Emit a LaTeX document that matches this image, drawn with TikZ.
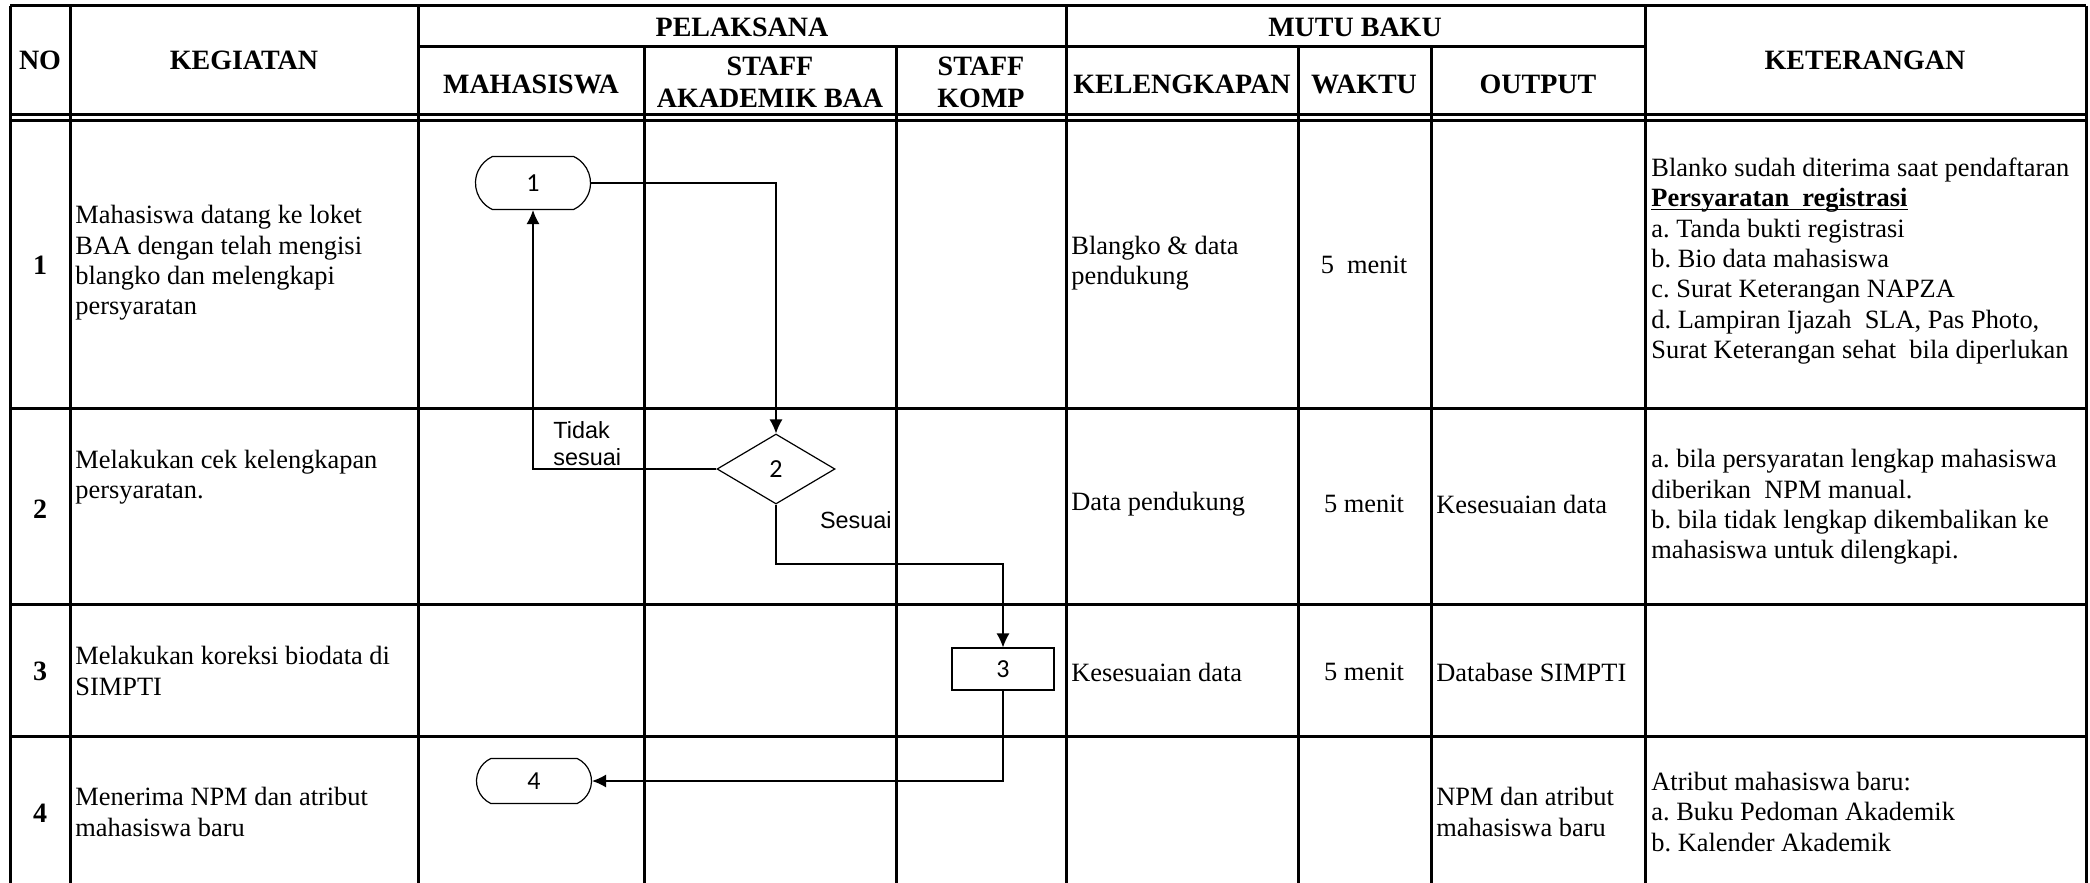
\documentclass[tikz,border=0pt]{standalone}
\usepackage{fontspec}
\setmainfont{Liberation Serif}
\newfontfamily\arialf{Liberation Sans}
\newfontfamily\calib{Carlito}
\usetikzlibrary{arrows.meta,shapes.geometric,shapes.misc}
\frenchspacing
\begin{document}
\begin{tikzpicture}[x=0.5pt,y=-0.5pt,
  grid/.style={line width=1.5pt},
  conn/.style={line width=0.6pt},
  arr/.style={conn,-{Latex[length=7pt,width=6.5pt]}},
  hd/.style={font=\fontsize{14}{16}\selectfont\bfseries,align=center,inner sep=0},
  txt/.style={font=\fontsize{13.2}{15.2}\selectfont,align=left,anchor=west,inner sep=0},
  ctxt/.style={font=\fontsize{13.2}{15.2}\selectfont,align=center,inner sep=0},
  num/.style={font=\fontsize{14}{16}\selectfont\bfseries,inner sep=0},
  lbl/.style={font=\arialf\fontsize{11.7}{13.5}\selectfont,align=left,inner sep=0},
  term/.style={draw,rounded rectangle,rounded rectangle arc length=130,line width=0.6pt,minimum width=57.5pt,font=\calib\fontsize{13}{15}\selectfont,inner sep=0},
  decis/.style={draw,diamond,line width=0.6pt,minimum width=59pt,minimum height=35pt,font=\calib\fontsize{13}{15}\selectfont,inner sep=0},
  procbox/.style={draw,rectangle,line width=0.6pt,minimum width=51pt,minimum height=21pt,font=\calib\fontsize{13}{15}\selectfont,inner sep=0}
]
\useasboundingbox (0,0) rectangle (2090,883);
% grid
\draw[grid] (10,6) -- (2086,6);
\draw[grid] (10,6) -- (10,883);
\draw[grid] (2086,6) -- (2086,883);
\draw[grid] (70,6) -- (70,883);
\draw[grid] (418,6) -- (418,883);
\draw[grid] (644,47) -- (644,883);
\draw[grid] (896,47) -- (896,883);
\draw[grid] (1066,6) -- (1066,883);
\draw[grid] (1298,47) -- (1298,883);
\draw[grid] (1431,47) -- (1431,883);
\draw[grid] (1645,6) -- (1645,883);
\draw[grid] (418,47) -- (1645,47);
\draw[grid] (10,115) -- (2086,115);
\draw[grid] (10,121) -- (2086,121);
\draw[grid] (10,408) -- (2086,408);
\draw[grid] (10,604) -- (2086,604);
\draw[grid] (10,736) -- (2086,736);
% header
\node[hd] (hno) at (40,60) {NO};
\node[hd] (hkeg) at (244,60) {KEGIATAN};
\node[hd] (hpel) at (742,27) {PELAKSANA};
\node[hd] (hmutu) at (1355,27) {MUTU BAKU};
\node[hd] (hket) at (1865,60) {KETERANGAN};
\node[hd] (hmhs) at (531,84) {MAHASISWA};
\node[hd] (hbaa) at (770,82) {STAFF\\AKADEMIK BAA};
\node[hd] (hkomp) at (981,82) {STAFF\\KOMP};
\node[hd] (hkel) at (1182,84) {KELENGKAPAN};
\node[hd] (hwak) at (1364,84) {WAKTU};
\node[hd] (hout) at (1538,84) {OUTPUT};
% row 1
\node[num] (n1) at (40,265) {1};
\node[txt] (k1) at (75,263) {Mahasiswa datang ke loket\\BAA dengan telah mengisi\\blangko dan melengkapi\\persyaratan};
\node[txt] (l1) at (1071,263) {Blangko \& data\\pendukung};
\node[ctxt] (w1) at (1364,265) {5\ \ menit};
\node[txt] (c1) at (1651,261) {Blanko sudah diterima saat pendaftaran\\\underline{\smash{\textbf{Persyaratan\ \ registrasi}}}\\a. Tanda bukti registrasi\\b. Bio data mahasiswa\\c. Surat Keterangan NAPZA\\d. Lampiran Ijazah\ \ SLA, Pas Photo,\\Surat Keterangan sehat\ \ bila diperlukan};
% row 2
\node[num] (n2) at (40,509) {2};
\node[txt] (k2) at (75,477) {Melakukan cek kelengkapan\\persyaratan.};
\node[txt] (l2) at (1071,504) {Data pendukung};
\node[ctxt] (w2) at (1364,504) {5 menit};
\node[txt] (o2) at (1436,504) {Kesesuaian data};
\node[txt] (c2) at (1651,507) {a. bila persyaratan lengkap mahasiswa\\diberikan\ \ NPM manual.\\b. bila tidak lengkap dikembalikan ke\\mahasiswa untuk dilengkapi.};
% row 3
\node[num] (n3) at (40,671) {3};
\node[txt] (k3) at (75,671) {Melakukan koreksi biodata di\\SIMPTI};
\node[txt] (l3) at (1071,672) {Kesesuaian data};
\node[ctxt] (w3) at (1364,672) {5 menit};
\node[txt] (o3) at (1436,672) {Database SIMPTI};
% row 4
\node[num] (n4) at (40,813) {4};
\node[txt] (k4) at (75,812) {Menerima NPM dan atribut\\mahasiswa baru};
\node[txt] (o4) at (1436,812) {NPM dan atribut\\mahasiswa baru};
\node[txt] (c4) at (1651,812) {Atribut mahasiswa baru:\\a. Buku Pedoman Akademik\\b. Kalender Akademik};
% flow
\node[term,minimum height=26.5pt] (s1) at (533,183) {1};
\node[decis] (s2) at (776,469) {2};
\node[procbox] (s3) at (1003,669) {3};
\node[term,minimum height=22.5pt] (s4) at (534,781) {4};
\coordinate (a1) at (776,183);
\coordinate (b1) at (533,469);
\coordinate (c1a) at (776,564);
\coordinate (c1b) at (1003,564);
\coordinate (d1) at (1003,781);
\draw[arr] (s1.east) -- (a1) -- (s2.north);
\draw[arr] (s2.west) -- (b1) -- (s1.south);
\draw[arr] (s2.south) -- (c1a) -- (c1b) -- (s3.north);
\draw[arr] (s3.south) -- (d1) -- (s4.east);
\node[lbl,anchor=west] (ltidak) at (553,444) {Tidak\\sesuai};
\node[lbl,anchor=east] (lsesuai) at (892,520) {Sesuai};
\end{tikzpicture}
\end{document}
